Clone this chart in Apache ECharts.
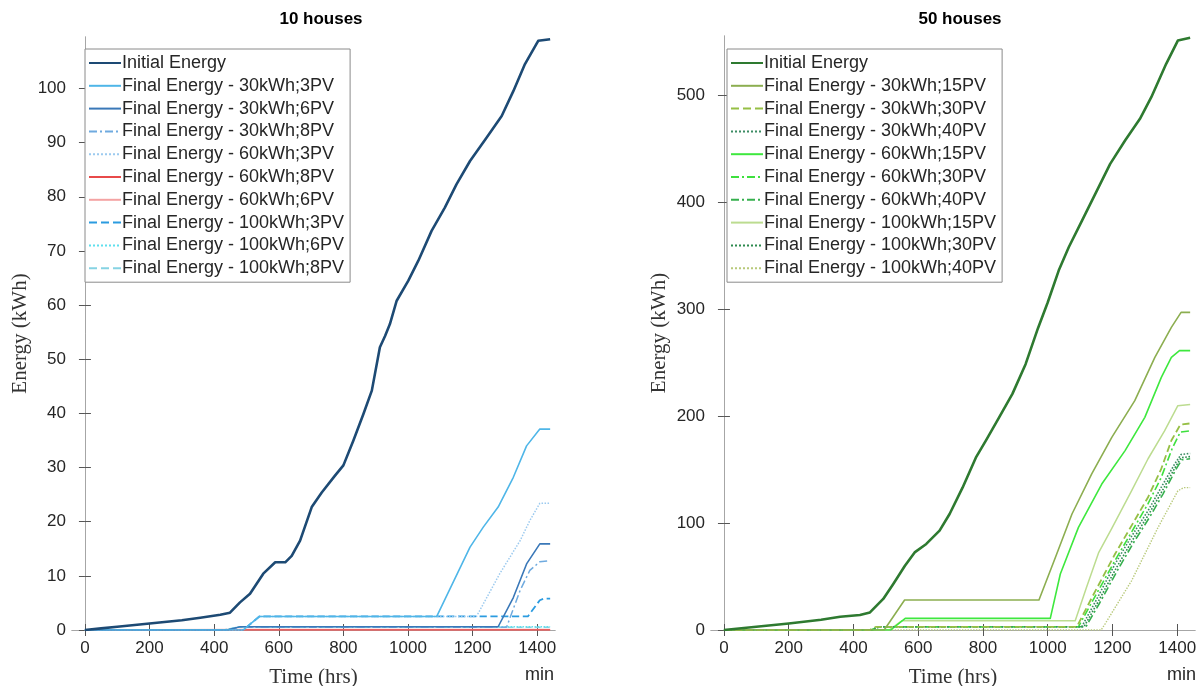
<!DOCTYPE html>
<html>
<head>
<meta charset="utf-8">
<script src="https://cdn.jsdelivr.net/npm/echarts@6/dist/echarts.min.js"></script>
<style>
html,body{margin:0;padding:0;background:#fff;}
#main{width:1202px;height:686px;}
</style>
</head>
<body>
<div id="main"></div>
<script>
// x ticks (min) shared by both panels
var xTicks = [0, 200, 400, 600, 800, 1000, 1200, 1400];
var yTicks10 = [0, 10, 20, 30, 40, 50, 60, 70, 80, 90, 100];
var yTicks50 = [0, 100, 200, 300, 400, 500];

// ---- 10 houses ----
var init10 = [[0,0],[50,0.3],[100,0.6],[200,1.2],[300,1.8],[357,2.25],[419,2.8],[449,3.2],[480,5.1],[511,6.7],[552,10.4],[589,12.5],[620,12.5],[640,13.7],[666,16.5],[702,22.7],[733,25.4],[774,28.5],[800,30.4],[831,35],[862,39.9],[888,44.2],[913,52.2],[929,54.3],[944,56.5],[965,60.8],[1001,64.5],[1032,68.2],[1073,73.7],[1114,78],[1150,82.3],[1192,86.6],[1243,90.9],[1290,94.9],[1326,99.5],[1362,104.5],[1403,108.8],[1440,109.1]];
var h10_30_3 = [[0,0],[490,0],[540,2.5],[1089,2.5],[1192,15.3],[1233,19],[1279,22.7],[1326,28.2],[1367,34],[1408,37.1],[1440,37.1]];
var h10_30_6 = [[0,0],[440,0],[480,0.6],[1279,0.6],[1326,6],[1367,12.2],[1408,15.9],[1440,15.9]];
var h10_30_8 = [[0,0],[440,0],[480,0.5],[1305,0.5],[1347,7.3],[1377,11],[1408,12.6],[1440,12.8]];
var h10_60_3 = [[0,0],[490,0],[540,2.5],[1212,2.5],[1284,10.4],[1347,16.5],[1377,20.2],[1408,23.4],[1440,23.4]];
var h10_60_8 = [[0,0],[500,0],[1440,0]];
var h10_60_6 = [[0,0],[480,0.1],[1440,0.1]];
var h10_100_3 = [[0,0],[490,0],[540,2.5],[1371,2.5],[1408,5.5],[1420,5.8],[1440,5.8]];
var h10_100_6 = [[0,0],[430,0],[480,0.6],[1440,0.6]];
var h10_100_8 = [[0,0],[430,0],[470,0.5],[1440,0.5]];

// ---- 50 houses ----
var init50 = [[0,0],[100,3],[200,6],[300,9.5],[359,12.4],[420,14],[451,16.4],[492,29],[523,43],[559,60],[589,72.5],[625,80.4],[666,92.8],[697,108.4],[737,133],[778,161],[809,177],[850,198.7],[891,220.6],[932,248.6],[970,282],[1000,306],[1034,335.8],[1065,357.6],[1106,382.5],[1147,407.5],[1193,435.5],[1239,457.3],[1285,477.6],[1320,497.8],[1366,529],[1402,550.7],[1440,553.3]];
var h50_30_15 = [[0,0],[495,0],[558,28],[973,28],[1024,67.9],[1075,108.4],[1136,145.8],[1198,180],[1269,214.3],[1331,254.8],[1382,282.8],[1412,296.8],[1440,296.8]];
var h50_30_30 = [[0,0],[450,0],[470,3],[1090,3],[1136,30],[1208,71],[1260,98],[1310,124],[1350,150],[1382,177],[1410,192],[1440,193]];
var h50_30_40 = [[0,0],[455,0],[475,3],[1105,3],[1150,28],[1208,61.7],[1260,88],[1310,111.5],[1350,133],[1392,155],[1412,164],[1440,165]];
var h50_60_15 = [[0,0],[515,0],[560,10.9],[1008,10.9],[1039,52.3],[1095,95.9],[1167,136.4],[1239,167.6],[1300,198.7],[1351,236],[1382,254.8],[1407,261],[1440,261]];
var h50_60_30 = [[0,0],[455,0],[475,3],[1095,3],[1140,28],[1210,66],[1260,92],[1310,118],[1350,142],[1385,170],[1410,185],[1440,186]];
var h50_60_40 = [[0,0],[460,0],[480,3],[1118,3],[1160,25],[1216,56],[1266,82],[1316,106],[1356,127],[1396,150],[1414,159],[1440,160]];
var h50_100_15 = [[0,0],[510,0],[550,8.7],[1085,8.7],[1120,40],[1157,72],[1198,95],[1259,130],[1310,160],[1361,186],[1402,209.6],[1440,210.6]];
var h50_100_30 = [[0,0],[460,0],[480,3],[1112,3],[1155,26],[1212,58],[1262,84],[1312,108],[1352,129],[1394,152],[1412,161],[1440,162]];
var h50_100_40 = [[0,0],[1165,0],[1177,5.6],[1259,46],[1341,95.9],[1402,130],[1420,133],[1440,133]];

var sans = 'Liberation Sans';
var serif = 'Liberation Serif';
var dashDot = [8, 3, 2, 3];

function line(name, data, idx, color, width, type) {
	return {
		name: name, type: 'line', data: data,
		xAxisIndex: idx, yAxisIndex: idx,
		symbol: 'none', smooth: false, animation: false,
		lineStyle: {color: color, width: width, type: type || 'solid', join: 'round'},
		itemStyle: {color: color}
	};
}

function plain(v) { return String(v); }

function xAxis(idx, pos, lbl) {
	return {
		type: 'value', gridIndex: idx, position: pos, min: -40, max: 1455,
		axisLine: {show: true, lineStyle: {color: '#a6a6a6', width: 1}},
		axisTick: {show: true, inside: true, length: 6, customValues: xTicks, lineStyle: {color: '#555'}},
		axisLabel: {show: lbl, customValues: xTicks, formatter: plain, color: '#262626', fontFamily: sans, fontSize: 17, margin: 10},
		splitLine: {show: false},
		name: lbl ? 'Time (hrs)' : '', nameLocation: 'middle', nameGap: 37,
		nameTextStyle: {fontFamily: serif, fontSize: 21, color: '#333'}
	};
}

function yAxis(idx, pos, max, ticks, lbl) {
	return {
		type: 'value', gridIndex: idx, position: pos, min: 0, max: max,
		axisLine: {show: true, lineStyle: {color: '#a6a6a6', width: 1}},
		axisTick: {show: true, inside: true, length: 6, customValues: ticks, lineStyle: {color: '#555'}},
		axisLabel: {show: lbl, customValues: ticks, formatter: plain, color: '#262626', fontFamily: sans, fontSize: 17, margin: 6},
		splitLine: {show: false},
		name: lbl ? 'Energy (kWh)' : '', nameLocation: 'middle', nameGap: 41,
		nameTextStyle: {fontFamily: serif, fontSize: 21, color: '#333'}
	};
}

var names10 = ['Initial Energy','Final Energy - 30kWh;3PV','Final Energy - 30kWh;6PV','Final Energy - 30kWh;8PV','Final Energy - 60kWh;3PV','Final Energy - 60kWh;8PV','Final Energy - 60kWh;6PV','Final Energy - 100kWh;3PV','Final Energy - 100kWh;6PV','Final Energy - 100kWh;8PV'];
var names50 = ['Initial Energy ','Final Energy - 30kWh;15PV','Final Energy - 30kWh;30PV','Final Energy - 30kWh;40PV','Final Energy - 60kWh;15PV','Final Energy - 60kWh;30PV','Final Energy - 60kWh;40PV','Final Energy - 100kWh;15PV','Final Energy - 100kWh;30PV','Final Energy - 100kWh;40PV'];

function legend(left, data) {
	return {
		left: left, top: 49, orient: 'vertical', data: data,
		backgroundColor: '#fff', borderColor: '#8a8a8a', borderWidth: 1, borderRadius: 0,
		padding: [5, 6, 5, 3], itemWidth: 32, itemHeight: 14, itemGap: 4.8,
		selectedMode: false,
		itemStyle: {opacity: 0},
		textStyle: {fontFamily: sans, fontSize: 18, lineHeight: 18, color: '#262626', padding: [0, 0, 0, -4]}
	};
}

var chart = echarts.init(document.getElementById('main'), null, {renderer: 'canvas'});
chart.setOption({
	backgroundColor: '#fff',
	animation: false,
	title: [
		{text: '10 houses', left: 316, top: 6, textAlign: 'center', textStyle: {fontFamily: sans, fontSize: 17, fontWeight: 'bold', color: '#000'}},
		{text: '50 houses', left: 955, top: 6, textAlign: 'center', textStyle: {fontFamily: sans, fontSize: 17, fontWeight: 'bold', color: '#000'}}
	],
	grid: [
		{left: 72, top: 37, width: 483, height: 593, outerBoundsMode: 'none'},
		{left: 711, top: 36, width: 484, height: 594, outerBoundsMode: 'none'}
	],
	xAxis: [xAxis(0, 'bottom', true), xAxis(1, 'bottom', true), xAxis(0, 'top', false), xAxis(1, 'top', false)],
	yAxis: [yAxis(0, 'left', 109.5, yTicks10, true), yAxis(1, 'left', 555, yTicks50, true), yAxis(0, 'right', 109.5, yTicks10, false), yAxis(1, 'right', 555, yTicks50, false)],
	legend: [legend(85, names10), legend(727, names50)],
	graphic: [
		{type: 'text', left: 525, top: 666, style: {text: 'min', font: '18px "Liberation Sans"', fill: '#262626'}},
		{type: 'text', left: 1167, top: 666, style: {text: 'min', font: '18px "Liberation Sans"', fill: '#262626'}}
	],
	series: [
		line(names10[9], h10_100_8, 0, '#86d3e3', 1.5, 'dashed'),
		line(names10[8], h10_100_6, 0, '#5fe0ee', 1.5, 'dotted'),
		line(names10[7], h10_100_3, 0, '#2b9be0', 1.8, 'dashed'),
		line(names10[6], h10_60_6, 0, '#f4a3a3', 1.5),
		line(names10[5], h10_60_8, 0, '#e84a4a', 1.5),
		line(names10[4], h10_60_3, 0, '#9ccaef', 1.5, 'dotted'),
		line(names10[3], h10_30_8, 0, '#6faadf', 1.5, dashDot),
		line(names10[2], h10_30_6, 0, '#3a78b8', 1.6),
		line(names10[1], h10_30_3, 0, '#4fb6e8', 1.6),
		line(names10[0], init10, 0, '#1d4a74', 2.6),

		line(names50[9], h50_100_40, 1, '#b8c97a', 1.4, 'dotted'),
		line(names50[8], h50_100_30, 1, '#2d8a4e', 1.6, 'dotted'),
		line(names50[7], h50_100_15, 1, '#bcdc90', 1.5),
		line(names50[6], h50_60_40, 1, '#36b04e', 1.6, dashDot),
		line(names50[5], h50_60_30, 1, '#3ee03e', 1.6, dashDot),
		line(names50[4], h50_60_15, 1, '#3ee83e', 1.6),
		line(names50[3], h50_30_40, 1, '#3c8c64', 1.6, 'dotted'),
		line(names50[2], h50_30_30, 1, '#96bf45', 1.8, 'dashed'),
		line(names50[1], h50_30_15, 1, '#8cae50', 1.6),
		line(names50[0], init50, 1, '#2e7a30', 2.6)
	]
});
</script>
</body>
</html>
